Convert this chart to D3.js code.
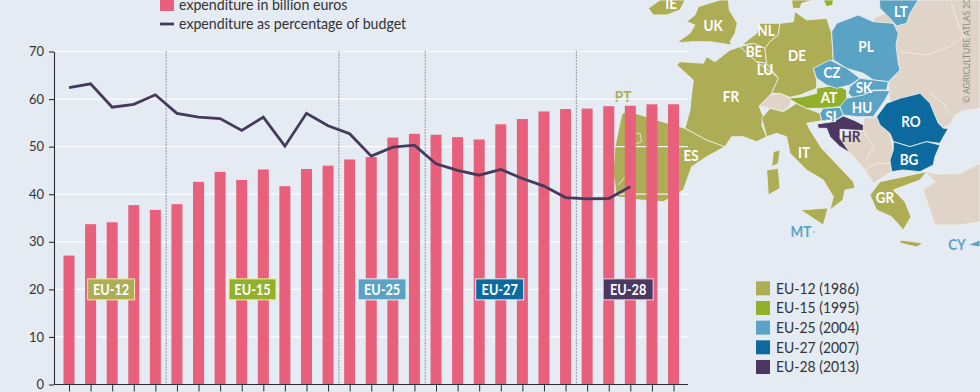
<!DOCTYPE html>
<html>
<head>
<meta charset="utf-8">
<script src="https://cdn.jsdelivr.net/npm/d3@7"></script>
<style>
  html, body { margin: 0; padding: 0; background: #e5ebf3; overflow: hidden; }
  text { font-family: Lato, "Open Sans", sans-serif; }
</style>
</head>
<body>
<div id="chart"></div>
<script>
// values
const years = [1990,1991,1992,1993,1994,1995,1996,1997,1998,1999,2000,2001,2002,2003,2004,2005,2006,2007,2008,2009,2010,2011,2012,2013,2014,2015,2016,2017,2018]
const billions = [27.1,33.7,34.1,37.7,36.7,37.9,42.6,44.7,43.0,45.2,41.7,45.3,46.0,47.3,47.8,51.9,52.7,52.5,52.0,51.5,54.7,55.8,57.4,57.9,58.0,58.5,58.6,58.9,58.9]
const percent = [62.4,63.2,58.3,58.9,60.9,57.0,56.2,55.9,53.4,56.2,50.1,57.0,54.4,52.7,48.0,49.9,50.3,46.4,45.0,44.0,45.2,43.3,41.7,39.3,39.0,39.1,41.6]
const yTicks = [0,10,20,30,40,50,60,70]
const dividerYears = [1994.5,2002.5,2006.5,2013.5]
const stageNames = ["EU-12","EU-15","EU-25","EU-27","EU-28"]
const stageCentres = [1991.95,1998.5,2004.5,2009.95,2015.9]
const stageJoined = [1986,1995,2004,2007,2013]
const stageColors = ["#adad55","#93b02d","#5ba3c4","#0d6a9f","#4a3762"]
const stageEdges = ["#f2e9a8","#eef2a0","#e8f2f8","#e8f2f8","#efd9e4"]

const beige = "#e0d4c9", olive = stageColors[0], green = stageColors[1], blue = stageColors[2], dark = stageColors[3], purple = stageColors[4]

// map outlines, traced by hand; coordinates are 3x page pixels, offset 610,0
const landShapes = [
  [beige, "M790,55 L830,38 L860,78 L925,0 L1110,0 L1110,325 L1060,332 L1035,345 L1022,372 L1000,385 L960,400 L840,300 L835,245 Z"],
  [beige, "M760,355 L800,350 L840,400 L850,450 L845,515 L790,550 L765,510 L720,458 L690,415 L760,392 Z"],
  [beige, "M945,515 L985,522 L1050,520 L1110,490 L1110,666 L1050,675 L975,675 L939,570 L975,545 Z"],
  [beige, "M447,318 L475,285 L510,280 L545,295 L540,315 L520,335 L480,325 Z"],
  [olive, "M115,25 L150,0 L225,0 L210,30 L170,45 L130,45 Z"],
  [olive, "M200,128 L240,100 L255,75 L230,65 L255,45 L265,20 L330,0 L355,0 L358,30 L382,70 L375,100 L360,125 L365,135 L300,125 L250,125 Z"],
  [olive, "M36,340 L60,335 L140,360 L225,385 L290,420 L345,440 L290,470 L245,500 L220,570 L160,605 L90,600 L20,590 L10,520 L15,440 Z"],
  [olive, "M390,140 L440,185 L495,225 L505,235 L485,280 L447,318 L460,350 L455,375 L470,410 L440,425 L400,410 L365,410 L345,440 L290,420 L225,385 L240,330 L245,280 L250,240 L200,195 L210,185 L280,190 L290,170 L315,185 L360,150 Z"],
  [olive, "M395,135 L440,100 L450,70 L510,70 L505,105 L480,125 L465,145 L430,130 Z"],
  [olive, "M390,140 L430,130 L465,145 L470,190 L440,185 Z"],
  [olive, "M440,185 L470,190 L505,235 L495,225 Z"],
  [olive, "M510,70 L550,65 L555,35 L590,60 L650,55 L665,100 L670,180 L610,205 L620,240 L620,265 L570,285 L540,292 L510,280 L485,280 L505,235 L470,190 L465,145 L480,125 L505,105 Z"],
  [olive, "M545,0 L548,25 L570,25 L575,10 L610,0 Z"],
  [olive, "M455,355 L480,325 L520,335 L560,310 L590,325 L630,340 L635,362 L590,370 L600,390 L635,445 L730,545 L735,565 L705,570 L699,600 L660,630 L670,590 L640,540 L590,510 L540,460 L530,410 L500,400 L470,410 Z"],
  [olive, "M470,510 L505,505 L510,565 L475,585 Z"],
  [olive, "M490,455 L510,450 L505,490 L485,500 Z"],
  [olive, "M572,630 L654,624 L640,675 Z"],
  [olive, "M780,585 L810,545 L880,530 L950,515 L930,540 L850,570 L885,605 L903,650 L880,690 L845,650 L800,630 Z"],
  [olive, "M870,720 L939,729 L921,741 L870,729 Z"],
  [green, "M640,0 L670,0 L668,15 L650,20 Z"],
  [green, "M535,295 L580,290 L620,280 L620,265 L680,255 L710,270 L710,300 L690,320 L640,325 L590,325 L560,310 Z"],
  [blue, "M665,95 L680,70 L745,45 L790,65 L850,70 L865,100 L858,135 L865,190 L870,210 L835,245 L790,240 L760,220 L710,205 L670,180 Z"],
  [blue, "M610,205 L660,180 L710,205 L750,235 L720,255 L680,265 L650,255 L620,235 Z"],
  [blue, "M720,260 L750,235 L790,240 L835,245 L830,270 L790,270 L760,285 L730,295 L715,280 Z"],
  [blue, "M710,295 L760,285 L790,272 L840,272 L825,300 L790,350 L740,350 L700,345 L690,320 Z"],
  [blue, "M630,340 L640,325 L690,322 L700,345 L670,365 L635,362 Z"],
  [blue, "M808,0 L925,0 L900,40 L890,70 L860,78 L845,60 L810,25 Z"],
  [blue, "M1074,735 L1110,720 L1110,741 Z"],
  [dark, "M800,350 L830,310 L870,295 L930,280 L960,310 L985,370 L1000,385 L1015,385 L995,420 L990,430 L950,425 L900,440 L850,425 L840,400 L810,375 Z"],
  [dark, "M850,425 L900,440 L950,425 L990,435 L975,470 L970,495 L930,515 L880,510 L845,515 L840,480 L850,450 Z"],
  [purple, "M622,372 L670,365 L700,348 L735,362 L760,375 L760,392 L690,388 L690,415 L720,458 L690,440 L660,410 L650,385 L625,385 Z"]
]
const borderLines = [
  "M870,155 L950,165 L1020,140 L1060,110",
  "M1025,10 L1040,60 L1070,130",
  "M960,280 L1000,310 L1022,345",
  "M60,400 L90,400 L95,425 L70,435",
  "M25,555 L45,530",
  "M765,510 L800,490 L840,490",
  "M760,392 L790,440 L770,480"
]
const countryLabels = [
  ["IE",671,4,"#fff"],["UK",713,26,"#fff"],["NL",766,31,"#fff"],["BE",754,52,"#fff"],["LU",765,70,"#fff"],
  ["DE",797,56,"#fff"],["PL",866,47,"#fff"],["LT",901,12,"#fff"],["CZ",832,73,"#fff"],["SK",864,88,"#fff"],
  ["AT",829,98,"#fff"],["SI",831,117,"#fff"],["HU",862,108,"#fff"],["RO",911,122,"#fff"],["BG",909,160,"#fff"],
  ["HR",851,137,purple],["FR",731,97,"#fff"],["IT",804,153,"#fff"],["ES",691,156,"#fff"],["GR",885,198,"#fff"],
  ["PT",623,97,olive],["MT",801,232,blue],["CY",957,245,blue]
]

const svg = d3.select("#chart").append("svg")
  .attr("width", 980)
  .attr("height", 392)
  .style("display", "block")

const x = d3.scaleLinear().domain([1990, 2018]).range([69, 673.5])
const y = d3.scaleLinear().domain([0, 70]).range([384.5, 51.5])
const axisLeftX = 54, axisRightX = 688

// map goes under the chart
const map = svg.append("g").attr("transform", "translate(610,0) scale(0.3333)")
map.selectAll("path.land").data(landShapes).join("path")
  .attr("class", "land")
  .attr("d", d => d[1])
  .attr("fill", d => d[0])
  .attr("stroke", "#eef1ee")
  .attr("stroke-width", 2.4)
  .attr("stroke-linejoin", "round")
map.selectAll("path.border").data(borderLines).join("path")
  .attr("class", "border")
  .attr("d", d => d)
  .attr("fill", "none")
  .attr("stroke", "#f3efe9")
  .attr("stroke-width", 2.4)

svg.selectAll("text.country").data(countryLabels).join("text")
  .attr("class", "country")
  .attr("transform", d => `translate(${d[1]},${d[2]}) scale(0.9,1)`)
  .attr("dy", "0.36em")
  .attr("text-anchor", "middle")
  .attr("font-size", 15)
  .attr("font-weight", 700)
  .attr("fill", d => d[3])
  .text(d => d[0])

svg.append("circle").attr("cx", 814).attr("cy", 232).attr("r", 0.8).attr("fill", blue)

svg.append("text")
  .attr("transform", "translate(970,103) rotate(-90) scale(0.85,1)")
  .attr("font-size", 10)
  .attr("fill", "#8d8a80")
  .text("© AGRICULTURE ATLAS 2019")

// gridlines
svg.append("g").selectAll("line").data(yTicks.slice(1)).join("line")
  .attr("x1", axisLeftX).attr("x2", axisRightX)
  .attr("y1", d => y(d)).attr("y2", d => y(d))
  .attr("stroke", "#fff")
  .attr("stroke-opacity", 0.85)
  .attr("stroke-width", 1.2)

svg.append("g").selectAll("line").data(dividerYears).join("line")
  .attr("x1", d => x(d)).attr("x2", d => x(d))
  .attr("y1", y(70)).attr("y2", y(0))
  .attr("stroke", "#3f4a5c")
  .attr("stroke-width", 1)
  .attr("stroke-dasharray", "1,2")

const barWidth = 11
svg.append("g").selectAll("rect").data(billions).join("rect")
  .attr("x", (d, i) => x(years[i]) - barWidth / 2)
  .attr("y", d => y(d))
  .attr("width", barWidth)
  .attr("height", d => y(0) - y(d))
  .attr("fill", "#e8607c")

const drawLine = d3.line()
  .x((d, i) => x(years[i]))
  .y(d => y(d))

svg.append("path")
  .datum(percent)
  .attr("fill", "none")
  .attr("stroke", "#453a5c")
  .attr("stroke-width", 2.8)
  .attr("stroke-linejoin", "miter")
  .attr("d", drawLine)

// axes
const yAxis = svg.append("g")
  .attr("transform", `translate(${axisLeftX},0)`)
  .call(d3.axisLeft(y).tickValues(yTicks).tickSize(5).tickPadding(5).tickSizeOuter(0))
yAxis.selectAll("text").attr("font-size", 13).attr("fill", "#333").style("font-family", "Lato, sans-serif")
yAxis.selectAll("line, path").attr("stroke", "#2b2b33").attr("stroke-width", 1.1)

const xAxis = svg.append("g")
  .attr("transform", `translate(0,${y(0)})`)
  .call(d3.axisBottom(x).tickValues(years).tickSize(7).tickFormat("").tickSizeOuter(0))
xAxis.select("path").attr("d", `M${axisLeftX},0H${axisRightX}`).attr("stroke", "#2b2b33").attr("stroke-width", 1.1)
xAxis.selectAll("line").attr("stroke", "#2b2b33").attr("stroke-width", 1)

// EU stage labels sitting on the bars
const boxW = [47, 47, 48, 48, 50]
const stage = svg.append("g").selectAll("g").data(stageNames).join("g")
  .attr("transform", (d, i) => `translate(${x(stageCentres[i])},${y(20)})`)
stage.append("rect")
  .attr("x", (d, i) => -boxW[i] / 2)
  .attr("y", -10.5)
  .attr("width", (d, i) => boxW[i])
  .attr("height", 21)
  .attr("fill", (d, i) => stageColors[i])
  .attr("stroke", (d, i) => stageEdges[i])
  .attr("stroke-width", 1)
stage.append("text")
  .attr("transform", "scale(0.85,1)")
  .attr("text-anchor", "middle")
  .attr("dy", "0.36em")
  .attr("font-size", 15)
  .attr("font-weight", 700)
  .attr("fill", "#fff")
  .text(d => d)

// top legend
svg.append("rect").attr("x", 160).attr("y", -3).attr("width", 14).attr("height", 14).attr("fill", "#e8607c")
svg.append("line").attr("x1", 160).attr("x2", 174).attr("y1", 24).attr("y2", 24)
  .attr("stroke", "#453a5c").attr("stroke-width", 2.8)
svg.append("text").attr("transform", "translate(179,9.5) scale(0.945,1)").attr("font-size", 15).attr("fill", "#333").text("expenditure in billion euros")
svg.append("text").attr("transform", "translate(179,29) scale(0.945,1)").attr("font-size", 15).attr("fill", "#333").text("expenditure as percentage of budget")

// map legend
const legend = svg.append("g").selectAll("g").data(stageNames).join("g")
  .attr("transform", (d, i) => `translate(756,${281.3 + i * 19.67})`)
legend.append("rect").attr("width", 14).attr("height", 14).attr("fill", (d, i) => stageColors[i])
legend.append("text")
  .attr("transform", "translate(20,12.5) scale(0.93,1)")
  .attr("font-size", 15)
  .attr("fill", "#333")
  .text((d, i) => `${d} (${stageJoined[i]})`)
</script>
</body>
</html>
